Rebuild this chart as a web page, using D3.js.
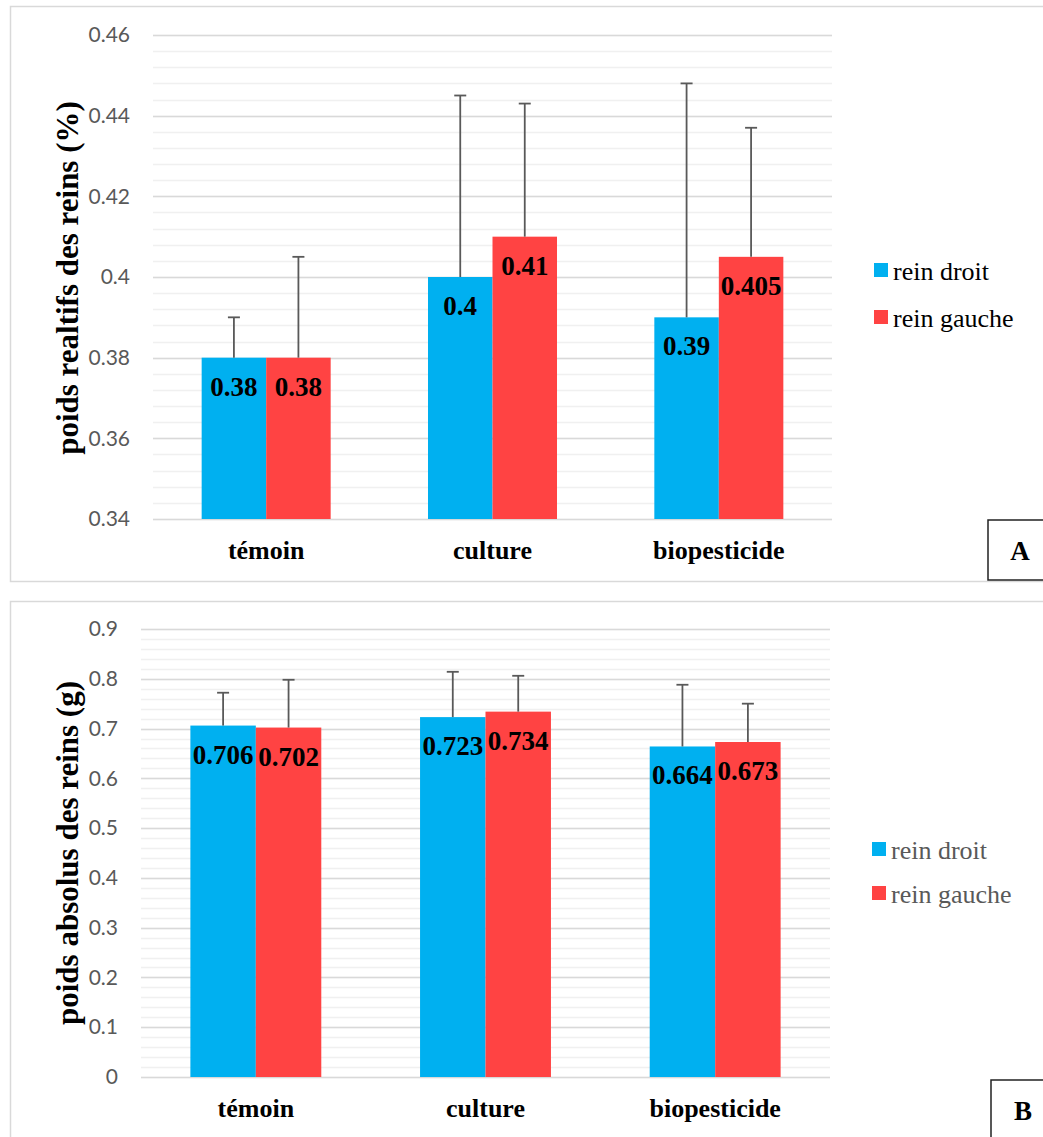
<!DOCTYPE html>
<html>
<head>
<meta charset="utf-8">
<script src="https://cdn.jsdelivr.net/npm/d3@7"></script>
<style>
  body { margin: 0; background: #fff; }
  svg { display: block; }
</style>
</head>
<body>
<script>
// data
var categories = ["témoin", "culture", "biopesticide"];
var seriesNames = ["rein droit", "rein gauche"];
var colors = ["#00B0F0", "#FF4343"];

// panel A : relative weight (%)
var relDroit = [0.38, 0.40, 0.39];
var relGauche = [0.38, 0.41, 0.405];
var relErrDroit = [0.010, 0.045, 0.058];
var relErrGauche = [0.025, 0.033, 0.032];
var relTicks = [0.34, 0.36, 0.38, 0.40, 0.42, 0.44, 0.46];

// panel B : absolute weight (g)
var absDroit = [0.706, 0.723, 0.664];
var absGauche = [0.702, 0.734, 0.673];
var absErrDroit = [0.066, 0.091, 0.124];
var absErrGauche = [0.096, 0.072, 0.077];
var absTicks = [0, 0.1, 0.2, 0.3, 0.4, 0.5, 0.6, 0.7, 0.8, 0.9];

var svg = d3.select("body")
    .append("svg")
    .attr("width", 1043)
    .attr("height", 1137);

var fmt = d3.format("~g");
var serif = "'Liberation Serif', 'Times New Roman', serif";

function makePanel(p) {
    var g = svg.append("g");

    // outer frame
    g.append("rect")
        .attr("x", 10.5).attr("y", p.frameTop + 0.5)
        .attr("width", 1100).attr("height", p.frameH)
        .attr("fill", "none")
        .attr("stroke", "#D9D9D9")
        .attr("stroke-width", 1.5);

    var x = d3.scaleBand()
        .domain(categories)
        .range([p.left, p.right])
        .paddingInner(0.43)
        .paddingOuter(0.215);

    var xs = d3.scaleBand()
        .domain([0, 1])
        .range([0, x.bandwidth()]);

    var y = d3.scaleLinear()
        .domain([p.ticks[0], p.ticks[p.ticks.length - 1]])
        .range([p.bottom, p.top]);

    // minor gridlines
    g.selectAll(".minor")
        .data(d3.range(y.domain()[0], y.domain()[1] + 1e-9, p.minor))
        .enter().append("line")
        .attr("x1", p.left).attr("x2", p.right)
        .attr("y1", function(d) { return Math.round(y(d)) + 0.5; })
        .attr("y2", function(d) { return Math.round(y(d)) + 0.5; })
        .attr("stroke", "#F0F0F0")
        .attr("stroke-width", 1.5);

    // major gridlines
    g.selectAll(".major")
        .data(p.ticks)
        .enter().append("line")
        .attr("x1", p.left).attr("x2", p.right)
        .attr("y1", function(d) { return Math.round(y(d)) + 0.5; })
        .attr("y2", function(d) { return Math.round(y(d)) + 0.5; })
        .attr("stroke", "#D9D9D9")
        .attr("stroke-width", 1.5);

    // y axis labels
    var yAxis = g.append("g")
        .attr("transform", "translate(" + (p.left - 23) + ",0)")
        .call(d3.axisLeft(y).tickValues(p.ticks).tickSize(0).tickPadding(0).tickFormat(fmt));
    yAxis.select(".domain").remove();
    yAxis.selectAll("text")
        .attr("font-family", "Lato, 'Open Sans', sans-serif")
        .attr("font-size", 21)
        .attr("fill", "#595959");

    // x axis labels
    var xAxis = g.append("g")
        .attr("transform", "translate(0," + p.bottom + ")")
        .call(d3.axisBottom(x).tickSize(0).tickPadding(0));
    xAxis.select(".domain").remove();
    xAxis.selectAll("text")
        .attr("dy", null)
        .attr("y", p.xLabelDy)
        .attr("font-family", serif)
        .attr("font-weight", "bold")
        .attr("font-size", 26)
        .attr("fill", "#000");

    var rows = [];
    categories.forEach(function(c, i) {
        p.values.forEach(function(vals, s) {
            rows.push({cat: c, s: s, v: vals[i], e: p.errors[s][i]});
        });
    });

    // bars
    g.selectAll(".bar")
        .data(rows)
        .enter().append("rect")
        .attr("x", function(d) { return x(d.cat) + xs(d.s); })
        .attr("y", function(d) { return y(d.v); })
        .attr("width", xs.bandwidth())
        .attr("height", function(d) { return y(y.domain()[0]) - y(d.v); })
        .attr("fill", function(d) { return colors[d.s]; });

    // error bars (upper only)
    var err = g.selectAll(".err")
        .data(rows)
        .enter().append("g")
        .attr("stroke", "#595959")
        .attr("stroke-width", 1.8);
    err.append("line")
        .attr("x1", function(d) { return x(d.cat) + xs(d.s) + xs.bandwidth() / 2; })
        .attr("x2", function(d) { return x(d.cat) + xs(d.s) + xs.bandwidth() / 2; })
        .attr("y1", function(d) { return y(d.v); })
        .attr("y2", function(d) { return y(d.v + d.e); });
    err.append("line")
        .attr("x1", function(d) { return x(d.cat) + xs(d.s) + xs.bandwidth() / 2 - 6; })
        .attr("x2", function(d) { return x(d.cat) + xs(d.s) + xs.bandwidth() / 2 + 6; })
        .attr("y1", function(d) { return y(d.v + d.e); })
        .attr("y2", function(d) { return y(d.v + d.e); });

    // value labels
    g.selectAll(".val")
        .data(rows)
        .enter().append("text")
        .attr("x", function(d) { return x(d.cat) + xs(d.s) + xs.bandwidth() / 2; })
        .attr("y", function(d) { return y(d.v) + 38; })
        .attr("text-anchor", "middle")
        .attr("font-family", serif)
        .attr("font-weight", "bold")
        .attr("font-size", 27)
        .attr("fill", "#000")
        .text(function(d) { return fmt(d.v); });

    // y title
    g.append("text")
        .attr("transform", "translate(78," + p.titleY + ") rotate(-90)")
        .attr("text-anchor", "middle")
        .attr("font-family", serif)
        .attr("font-weight", "bold")
        .attr("font-size", 31)
        .attr("fill", "#000")
        .text(p.title);

    // legend
    var leg = g.selectAll(".leg")
        .data(seriesNames)
        .enter().append("g")
        .attr("transform", function(d, i) { return "translate(" + p.legX + "," + (p.legY + i * p.legStep) + ")"; });
    leg.append("rect")
        .attr("width", 14).attr("height", 14)
        .attr("fill", function(d, i) { return colors[i]; });
    leg.append("text")
        .attr("x", 19).attr("y", 17)
        .attr("font-family", serif)
        .attr("font-size", 26)
        .attr("fill", p.legColor)
        .text(function(d) { return d; });

    // panel letter box
    g.append("rect")
        .attr("x", p.boxX).attr("y", p.boxY)
        .attr("width", 80).attr("height", 60)
        .attr("fill", "#fff")
        .attr("stroke", "#222")
        .attr("stroke-width", 1.5);
    g.append("text")
        .attr("x", p.boxX + 32).attr("y", p.boxY + 40)
        .attr("text-anchor", "middle")
        .attr("font-family", serif)
        .attr("font-weight", "bold")
        .attr("font-size", 27)
        .attr("fill", "#000")
        .text(p.letter);
}

makePanel({
    values: [relDroit, relGauche],
    errors: [relErrDroit, relErrGauche],
    ticks: relTicks, minor: 0.004,
    left: 153, right: 832, top: 35, bottom: 519,
    frameTop: 6, frameH: 575,
    xLabelDy: 40,
    title: "poids realtifs des reins (%)", titleY: 278,
    legX: 874, legY: 263, legStep: 47, legColor: "#000",
    boxX: 988, boxY: 520, letter: "A"
});

makePanel({
    values: [absDroit, absGauche],
    errors: [absErrDroit, absErrGauche],
    ticks: absTicks, minor: 0.02,
    left: 141, right: 830, top: 629, bottom: 1077,
    frameTop: 601, frameH: 600,
    xLabelDy: 40,
    title: "poids absolus des reins (g)", titleY: 853,
    legX: 872, legY: 842, legStep: 44, legColor: "#595959",
    boxX: 991, boxY: 1080, letter: "B"
});
</script>
</body>
</html>
